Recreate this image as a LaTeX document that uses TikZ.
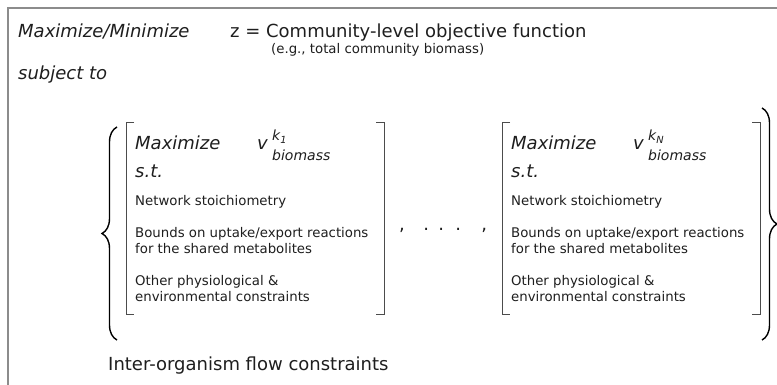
\documentclass[tikz,border=0pt]{standalone}
\usepackage{fontspec}
\setmainfont{DejaVu Sans}
\usetikzlibrary{positioning}
\usetikzlibrary{decorations.pathreplacing}
\definecolor{ink}{HTML}{1E1E1E}
\tikzset{basic/.style={inner sep=0pt,anchor=base west,text=ink}}
\tikzset{bigtext/.style={basic,font=\fontsize{18}{21}\selectfont}}
\tikzset{headtext/.style={basic,font=\fontsize{18}{21}\selectfont\itshape}}
\tikzset{bodytext/.style={basic,font=\fontsize{13.3}{16}\selectfont}}
\tikzset{scripttext/.style={basic,font=\fontsize{14}{16}\selectfont\itshape}}
\tikzset{bracket/.style={draw=black!70,line width=0.9pt}}
\tikzset{curly/.style={draw=black,line width=1.4pt,decorate,decoration={brace,amplitude=15pt}}}
\tikzset{frame/.style={draw=black!45,line width=1.2pt}}
\begin{document}
\begin{tikzpicture}[x=1pt,y=-1pt]
    \useasboundingbox (0,0) rectangle (777,385);
    \draw[frame] (8,395) |- (787,8);
    \node[headtext] (goal) at (18,38) {Maximize/Minimize};
    \node[bigtext] (obj) at (230,38) {z = Community-level objective function};
    \node[bodytext] (eg) at (271,54) {(e.g., total community biomass)};
    \node[headtext] (subj) at (18,80) {subject to};
    \foreach \b/\x/\k in {1/135/1,2/511/N}{
        \node[headtext] (max\b) at (\x,150) {Maximize};
        \node[headtext] (v\b) at (\x+122,150) {v};
        \node[scripttext] (k\b) at (\x+137,141) {k\textsubscript{\k}};
        \node[scripttext] (bio\b) at (\x+137,161) {biomass};
        \node[headtext] (st\b) at (\x,178) {s.t.};
        \node[bodytext] (net\b) at (\x,206) {Network stoichiometry};
        \node[bodytext] (bnd\b) at (\x,237) {Bounds on uptake/export reactions};
        \node[bodytext] (shr\b) at (\x,253) {for the shared metabolites};
        \node[bodytext] (oth\b) at (\x,285) {Other physiological \&};
        \node[bodytext] (env\b) at (\x,301) {environmental constraints};
            \draw[bracket] (\x-1,122) -- (\x-9,122) -- (\x-9,314) -- (\x-1,314);
            \draw[bracket] (\x+241,122) -- (\x+249,122) -- (\x+249,314) -- (\x+241,314);
    }
    \node[bigtext] (dots) at (399,230) {,\hspace{18.4pt}.\hspace{9.3pt}.\hspace{11.3pt}.\hspace{20.3pt},};
    \draw[curly] (117,340) -- (117,127);
    \draw[curly] (762,108) -- (762,340);
    \node[bigtext] (inter) at (108,370) {Inter-organism flow constraints};
\end{tikzpicture}
\end{document}
